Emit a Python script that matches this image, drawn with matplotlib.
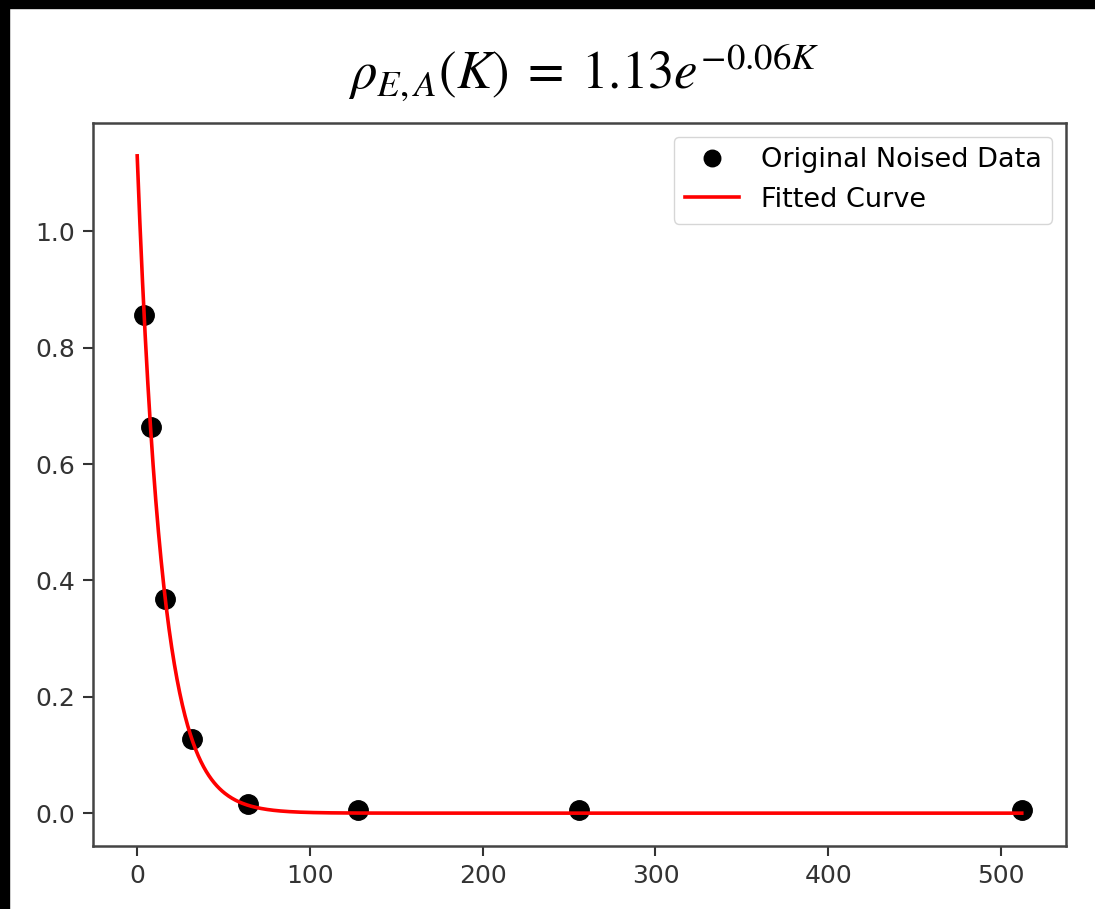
import numpy as np
import matplotlib
matplotlib.use('Agg')
import matplotlib.pyplot as plt
from matplotlib.patches import Rectangle

# Data
k_values = [4, 8, 16, 32, 64, 128, 256, 512]
rho_values = [0.857, 0.664, 0.368, 0.127, 0.016, 0.006, 0.006, 0.006]

# fitted curve parameters (curve drawn through the data)
fit_a = 1.13
fit_b = 0.069
k_fit = np.linspace(0, 512, 1000)
rho_fit = fit_a * np.exp(-fit_b * k_fit)

x_ticks = [0, 100, 200, 300, 400, 500]
y_ticks = [0.0, 0.2, 0.4, 0.6, 0.8, 1.0]

plt.rcParams['mathtext.fontset'] = 'stix'
fs = 18

fig = plt.figure(figsize=(10.95, 9.09), dpi=100)
ax = fig.add_axes([0.0849, 0.0693, 0.8886, 0.7954])

ax.plot(k_values, rho_values, 'o', color='black', markersize=14, label='Original Noised Data')
ax.plot(k_fit, rho_fit, color='red', lw=2.6, label='Fitted Curve')

ax.set_xticks(x_ticks)
ax.set_yticks(y_ticks)
ax.tick_params(labelsize=fs, length=7, width=1.5, colors='#333333', labelcolor='#333333', pad=6)
for s in ax.spines.values():
    s.set_linewidth(1.8)
    s.set_color('#444444')

ax.legend(fontsize=19.5, loc='upper right', handlelength=2.0, borderpad=0.4,
          labelspacing=0.5, markerscale=0.85, borderaxespad=0.5)

fig.text(0.533, 0.903, r'$\rho_{E,A}(K)\;=\;1.13e^{-0.06K}$', fontsize=38, ha='center', va='baseline')

# black screenshot border on top and left
fig.patches.append(Rectangle((0, 1 - 8 / 909), 1, 8 / 909, transform=fig.transFigure, color='black', zorder=10))
fig.patches.append(Rectangle((0, 0), 9 / 1095, 1, transform=fig.transFigure, color='black', zorder=10))

fig.savefig('out.png', dpi=100)
